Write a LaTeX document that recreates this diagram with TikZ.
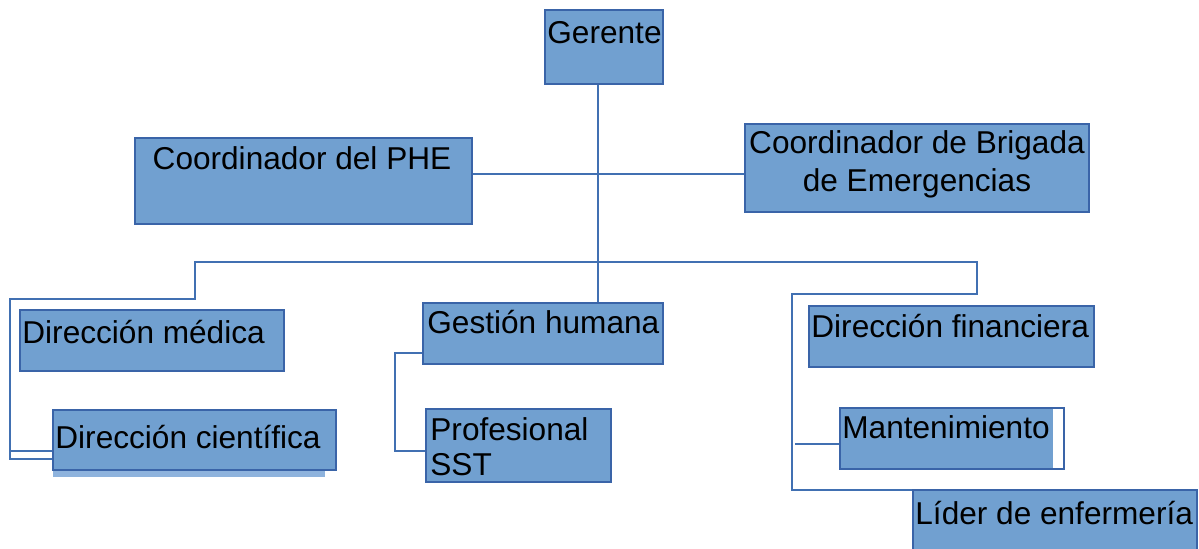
\documentclass[tikz,border=0pt]{standalone}
\usepackage{fontspec}
\setmainfont{Liberation Sans}
\usetikzlibrary{fit}
\definecolor{boxfill}{HTML}{71A0D0}
\definecolor{boxline}{HTML}{3A64A8}
\definecolor{connc}{HTML}{4170B2}
\definecolor{shadowc}{HTML}{8EB3DD}
\begin{document}
\begin{tikzpicture}[x=0.5pt,y=-0.5pt,
  box/.style={draw=boxline, fill=boxfill, line width=1pt, rectangle, inner sep=0pt},
  txt/.style={font=\fontsize{15.8}{19}\selectfont, inner sep=0pt, anchor=west, text=black},
  conn/.style={draw=connc, line width=1pt}]
\useasboundingbox (0,0) rectangle (1199,548);
% boxes
\node[box, fit={(545,10) (663,84)}] (ger) {};
\node[txt] (gerT) at (547,33) {Gerente};
\node[box, fit={(135,138) (472,224)}] (phe) {};
\node[txt, anchor=center] (pheT) at (302,158) {Coordinador del PHE};
\node[box, fit={(745,124) (1089,212)}] (brig) {};
\node[txt, anchor=center, align=center] (brigT) at (917,164) {Coordinador de Brigada\\de Emergencias};
\node[box, fit={(20,310) (284,371)}] (dm) {};
\node[txt] (dmT) at (22,332) {Dirección médica};
\fill[shadowc] (53,470) rectangle (325,477);
\node[box, fit={(53,410) (336,470)}] (dc) {};
\node[txt] (dcT) at (55,437) {Dirección científica};
\node[box, fit={(423,303) (663,364)}] (gh) {};
\node[txt] (ghT) at (427,322) {Gestión humana};
\node[box, fit={(426,409) (611,482)}] (sst) {};
\node[txt, align=left, font=\fontsize{15.8}{17.5}\selectfont] (sstT) at (430,447) {Profesional\\SST};
\node[box, fit={(809,306) (1094,367)}] (df) {};
\node[txt] (dfT) at (811,326) {Dirección financiera};
\fill[boxfill] (840,408) rectangle (1053,469);
\node[draw=boxline, line width=1pt, inner sep=0pt, fit={(840,408) (1064,469)}] (mant) {};
\node[txt] (mantT) at (842,427) {Mantenimiento};
\node[box, fit={(913,490) (1197,552)}] (lider) {};
\node[txt] (liderT) at (915,513) {Líder de enfermería};
% coordinates
\coordinate (trunk) at (598,0);
\coordinate (hl) at (0,174);
\coordinate (br) at (0,262);
\coordinate (lA) at (195,262);
\coordinate (lB) at (195,299);
\coordinate (lC) at (10,299);
\coordinate (lD) at (10,459);
\coordinate (lE) at (10,451);
\coordinate (rA) at (977,262);
\coordinate (rB) at (977,294);
\coordinate (rC) at (792,294);
\coordinate (rD) at (792,490);
\coordinate (mA) at (795,444);
\coordinate (gA) at (395,353);
\coordinate (gB) at (395,451);
% connectors
\draw[conn] (trunk |- ger.south) -- (trunk |- gh.north);
\draw[conn] (phe.east |- hl) -- (brig.west |- hl);
\draw[conn] (lD -| dc.west) -- (lD) -- (lC) -- (lB) -- (lA) -- (rA) -- (rB) -- (rC) -- (rD) -- (rD -| lider.west);
\draw[conn] (lE) -- (lE -| dc.west);
\draw[conn] (mA) -- (mA -| mant.west);
\draw[conn] (gA -| gh.west) -- (gA) -- (gB) -- (gB -| sst.west);
\end{tikzpicture}
\end{document}
